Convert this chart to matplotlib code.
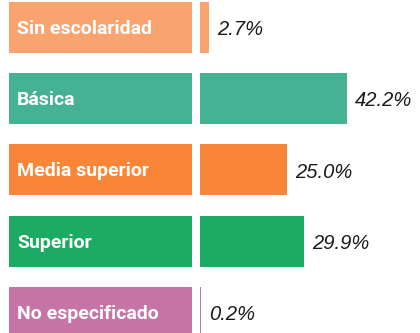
import matplotlib.pyplot as plt
from matplotlib import font_manager

categorias = ['Sin escolaridad', 'Básica', 'Media superior', 'Superior', 'No especificado']
porcentajes = [2.7, 42.2, 25.0, 29.9, 0.2]
etiquetas = ['2.7%', '42.2%', '25.0%', '29.9%', '0.2%']
colores = ['#F9A46E', '#46B294', '#F98638', '#1DAA62', '#C574A5']

nombres = {f.name for f in font_manager.fontManager.ttflist}
fuente = 'Liberation Sans Narrow' if 'Liberation Sans Narrow' in nombres else 'Roboto'

W, H = 420, 333
fig = plt.figure(figsize=(W / 100, H / 100), dpi=100)

# filas: centro de la primera a 27.5 px, paso de 71.2 px
paso = 71.2
y0 = -27.5 / paso
y1 = (H - 27.5) / paso
pos = list(range(len(categorias)))

# cajas con el nombre de cada categoria
ax_l = fig.add_axes([9 / W, 0, (192 - 9) / W, 1])
ax_l.barh(pos, [1] * len(pos), height=51 / paso, color=colores, left=0)
ax_l.set_xlim(0, 1)
ax_l.set_ylim(y1, y0)
for i, c in enumerate(categorias):
    ax_l.text(0.045, i + 0.02, c, color='white', fontsize=14, fontweight='bold',
              family=fuente, va='center', ha='left')
ax_l.axis('off')

# barras con el porcentaje
escala = 3.48  # px por punto porcentual
ax_r = fig.add_axes([200 / W, 0, (W - 200) / W, 1])
ax_r.barh(pos, porcentajes, height=51 / paso, color=colores, left=0)
ax_r.set_xlim(0, (W - 200) / escala)
ax_r.set_ylim(y1, y0)
for i, (v, t) in enumerate(zip(porcentajes, etiquetas)):
    ax_r.text(v + 8 / escala, i + 0.03, t, color='#1a1a1a', fontsize=14.5,
              style='italic', family='Liberation Sans', va='center', ha='left')
ax_r.axis('off')

fig.savefig('out.png', dpi=100, facecolor='white')
